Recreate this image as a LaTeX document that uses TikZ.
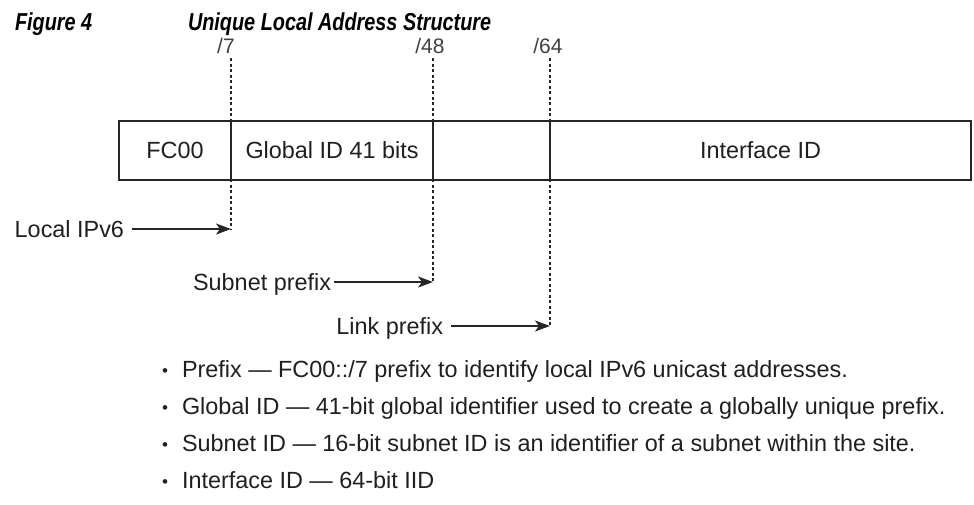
\documentclass[tikz,border=0pt]{standalone}
\usepackage{fontspec}
\setmainfont{Liberation Sans}
\newfontfamily\headfont{Liberation Sans}[FakeStretch=0.81]
\usetikzlibrary{arrows.meta}
% small bullet followed by the gap before the item text
\newcommand\itembullet{\makebox[20pt][l]{\fontsize{17}{17}\selectfont\raisebox{1pt}{•}}}
\begin{document}
\begin{tikzpicture}[x=1pt,y=-1pt,
  every node/.style={inner sep=0pt, outer sep=0pt, text=black!88},
  cell/.style={draw=black!85, line width=1.6pt, minimum height=59pt,
    font=\fontsize{23.4}{28}\selectfont},
  bitlbl/.style={font=\fontsize{21}{25}\selectfont, text=black!75},
  lbl/.style={font=\fontsize{23.4}{28}\selectfont, anchor=east,
    text height=16.8pt, text depth=0pt},
  guide/.style={draw=black!85, line width=1.4pt, dash pattern=on 3pt off 2.5pt},
  pointer/.style={draw=black!85, line width=1.4pt, shorten <=8pt,
    -{Stealth[length=15pt,width=11pt,inset=4pt]}},
  head/.style={font=\headfont\bfseries\itshape\fontsize{24.5}{29}\selectfont,
    anchor=base west, text=black},
  item/.style={font=\fontsize{23.4}{28}\selectfont, anchor=base west}]

\useasboundingbox (0,0) rectangle (974,504);

% caption
\node[head] (fig) at (15,30) {Figure 4};
\node[head] (ttl) at (188,30) {Unique Local Address Structure};

% prefix length markers and their guide lines
\node[bitlbl] (p7)  at (226,46) {/7};
\node[bitlbl] (p48) at (430,46) {/48};
\node[bitlbl] (p64) at (548,46) {/64};
\coordinate (t7)  at (231,58);
\coordinate (t48) at (433,58);
\coordinate (t64) at (550,58);
\coordinate (e7)  at (231,229);
\coordinate (e48) at (433,282);
\coordinate (e64) at (550,326);
\draw[guide] (t7) -- (e7);
\draw[guide] (t48) -- (e48);
\draw[guide] (t64) -- (e64);

% address fields
\node[cell, fill=white, minimum width=112pt] (fc)  at (175,150.5) {FC00};
\node[cell, fill=white, minimum width=202pt] (gid) at (332,150.5) {Global ID 41 bits};
\node[cell, fill=white, minimum width=117pt] (sub) at (491.5,150.5) {};
\node[cell, fill=white, minimum width=421pt] (iid) at (760.5,150.5) {Interface ID};

% prefix pointers
\node[lbl] (loc) at (124,229) {Local IPv6};
\node[lbl] (snp) at (331,282) {Subnet prefix};
\node[lbl] (lnk) at (443,326) {Link prefix};
\draw[pointer] (loc.east) -- (e7);
\draw[pointer, shorten <=3pt] (snp.east) -- (e48);
\draw[pointer] (lnk.east) -- (e64);

% field descriptions
\node[item] (d1) at (162,377) {\itembullet Prefix — FC00::/7 prefix to identify local IPv6 unicast addresses.};
\node[item] (d2) at (162,414) {\itembullet Global ID — 41-bit global identifier used to create a globally unique prefix.};
\node[item] (d3) at (162,451) {\itembullet Subnet ID — 16-bit subnet ID is an identifier of a subnet within the site.};
\node[item] (d4) at (162,488) {\itembullet Interface ID — 64-bit IID};
\end{tikzpicture}
\end{document}
